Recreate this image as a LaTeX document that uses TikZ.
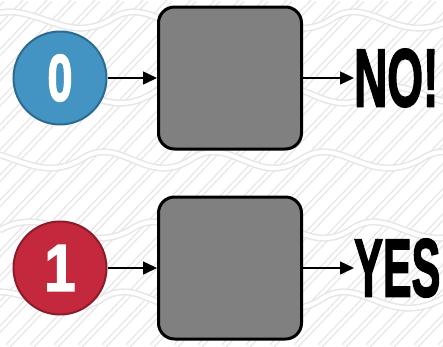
\documentclass[tikz,border=0pt]{standalone}
\usepackage{fontspec}
\setmainfont{Liberation Sans}
\newfontfamily\heavyfont{Liberation Sans Bold}[FakeBold=2.5]
\usetikzlibrary{arrows.meta}
\definecolor{blueC}{HTML}{4393C3}
\definecolor{blueB}{HTML}{2D6A92}
\definecolor{redC}{HTML}{C4283C}
\definecolor{redB}{HTML}{8C1C2A}
\definecolor{bgline}{HTML}{E6E6E6}
\tikzset{
  numcirc/.style={circle, minimum size=93pt, inner sep=0pt, line width=2pt, text=white, font=\fontsize{66}{66}\selectfont\heavyfont},
  graybox/.style={draw=black, fill=black!50, rounded corners=16pt, line width=3pt, minimum width=143pt, minimum height=142pt},
  conn/.style={line width=1.5pt, -{Triangle[length=14pt,width=13pt]}},
  bigword/.style={anchor=west, inner sep=0pt, font=\fontsize{82}{82}\selectfont\heavyfont},
  bg/.style={draw=bgline, line width=1.3pt, double=white, double distance=3pt}
}
\begin{document}
\begin{tikzpicture}[x=1pt,y=-1pt]
\useasboundingbox (0,0) rectangle (443,346);
\fill[white] (0,0) rectangle (443,346);
% background pattern
\begin{scope}
\clip (0,0) rectangle (443,346);
\foreach \i in {-400,-376,...,460} {
  \draw[bg] (\i,346) -- (\i+330,0);
}
\foreach \y/\s in {20/0,95/40,160/-30,230/20,300/-10} {
  \draw[bg, line width=1.5pt, double distance=4pt] (\s-20,\y) .. controls (\s+30,\y-28) and (\s+60,\y+28) .. (\s+110,\y) .. controls (\s+150,\y-28) and (\s+175,\y+28) .. (\s+220,\y) .. controls (\s+260,\y-28) and (\s+285,\y+28) .. (\s+330,\y) .. controls (\s+370,\y-28) and (\s+395,\y+28) .. (\s+450,\y) .. controls (\s+490,\y-28) and (\s+510,\y+28) .. (\s+560,\y);
}
\end{scope}
% top row
\node[numcirc, fill=blueC, draw=blueB] (c0) at (60,78) {\scalebox{0.68}[1]{0}};
\node[graybox] (b0) at (230,78) {};
\node[bigword] (t0) at (354,78) {\scalebox{0.56}[1]{NO!}};
% bottom row
\node[numcirc, fill=redC, draw=redB] (c1) at (60,268) {\scalebox{0.85}[1]{1}};
\node[graybox] (b1) at (230,268) {};
\node[bigword] (t1) at (354,268) {\scalebox{0.525}[1]{YES}};
% connectors
\draw[conn] (c0) -- (b0);
\draw[conn] (b0) -- (t0);
\draw[conn] (c1) -- (b1);
\draw[conn] (b1) -- (t1);
\end{tikzpicture}
\end{document}
